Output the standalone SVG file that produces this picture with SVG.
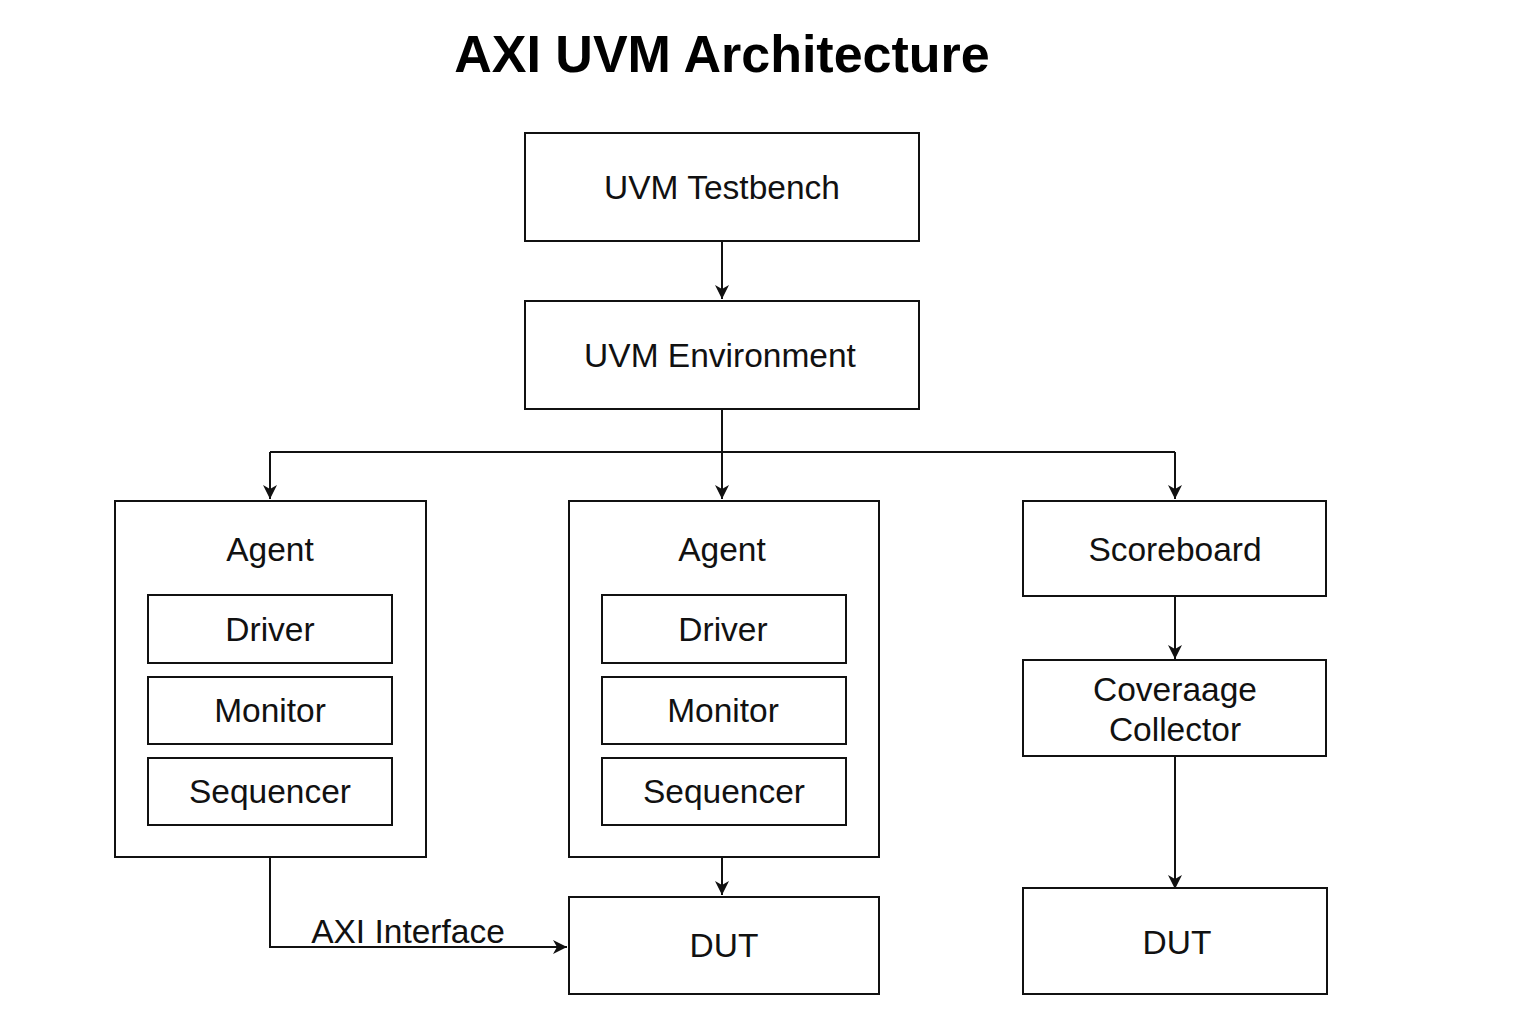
<svg xmlns="http://www.w3.org/2000/svg" width="1536" height="1024" viewBox="0 0 1536 1024">
<style>
.box{fill:#fff;stroke:#111;stroke-width:2}
.t{font-family:"Liberation Sans",Arial,sans-serif;font-size:33.5px;fill:#111;text-anchor:middle}
.title{font-family:"Liberation Sans",Arial,sans-serif;font-size:52px;font-weight:bold;fill:#000;text-anchor:middle}
.ln{fill:none;stroke:#111;stroke-width:2}
</style>
<defs>
<marker id="ah" markerWidth="15" markerHeight="14" refX="14" refY="7" orient="auto" markerUnits="userSpaceOnUse">
<path d="M0,0 L14,7 L0,14 L4,7 Z" fill="#111"/>
</marker>
</defs>
<rect width="1536" height="1024" fill="#fff"/>
<text class="title" x="722" y="72">AXI UVM Architecture</text>

<g id="connectors">
<path class="ln" d="M722,242 V299" marker-end="url(#ah)"/>
<path class="ln" d="M722,410 V452"/>
<path class="ln" d="M270,452 H1175"/>
<path class="ln" d="M270,452 V499" marker-end="url(#ah)"/>
<path class="ln" d="M722,452 V499" marker-end="url(#ah)"/>
<path class="ln" d="M1175,452 V499" marker-end="url(#ah)"/>
<path class="ln" d="M1175,597 V659" marker-end="url(#ah)"/>
<path class="ln" d="M1175,757 V889" marker-end="url(#ah)"/>
<path class="ln" d="M722,858 V895" marker-end="url(#ah)"/>
<path class="ln" d="M270,858 V947 H567" marker-end="url(#ah)"/>
<text class="t" x="408" y="943">AXI Interface</text>
</g>

<g id="testbench"><rect class="box" x="525" y="133" width="394" height="108"/><text class="t" x="722" y="199">UVM Testbench</text></g>
<g id="environment"><rect class="box" x="525" y="301" width="394" height="108"/><text class="t" x="720" y="367">UVM Environment</text></g>

<g id="agent1"><rect class="box" x="115" y="501" width="311" height="356"/><text class="t" x="270" y="561">Agent</text></g>
<g id="driver1"><rect class="box" x="148" y="595" width="244" height="68"/><text class="t" x="270" y="641">Driver</text></g>
<g id="monitor1"><rect class="box" x="148" y="677" width="244" height="67"/><text class="t" x="270" y="722">Monitor</text></g>
<g id="sequencer1"><rect class="box" x="148" y="758" width="244" height="67"/><text class="t" x="270" y="803">Sequencer</text></g>

<g id="agent2"><rect class="box" x="569" y="501" width="310" height="356"/><text class="t" x="722" y="561">Agent</text></g>
<g id="driver2"><rect class="box" x="602" y="595" width="244" height="68"/><text class="t" x="723" y="641">Driver</text></g>
<g id="monitor2"><rect class="box" x="602" y="677" width="244" height="67"/><text class="t" x="723" y="722">Monitor</text></g>
<g id="sequencer2"><rect class="box" x="602" y="758" width="244" height="67"/><text class="t" x="724" y="803">Sequencer</text></g>

<g id="scoreboard"><rect class="box" x="1023" y="501" width="303" height="95"/><text class="t" x="1175" y="561">Scoreboard</text></g>
<g id="coverage"><rect class="box" x="1023" y="660" width="303" height="96"/><text class="t" x="1175" y="701">Coveraage</text><text class="t" x="1175" y="741">Collector</text></g>

<g id="dut1"><rect class="box" x="569" y="897" width="310" height="97"/><text class="t" x="724" y="957">DUT</text></g>
<g id="dut2"><rect class="box" x="1023" y="888" width="304" height="106"/><text class="t" x="1177" y="954">DUT</text></g>
</svg>
